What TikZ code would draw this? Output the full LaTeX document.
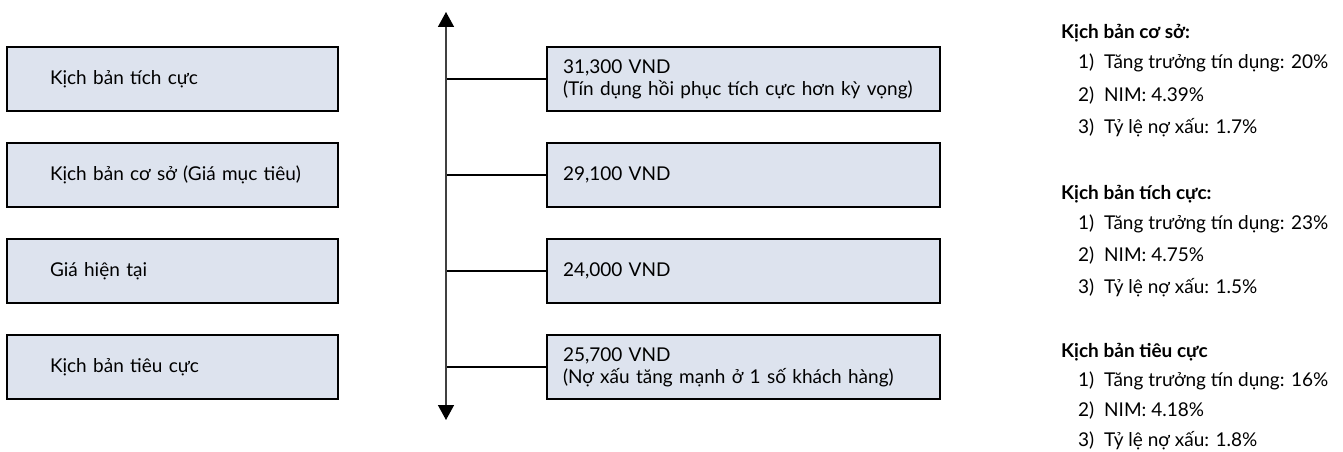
\documentclass[tikz,border=0pt]{standalone}
\usepackage{fontspec}
\setmainfont{Lato}
\usetikzlibrary{arrows.meta}
\definecolor{boxfill}{RGB}{221,227,238}
\definecolor{axisgray}{RGB}{64,64,64}
\tikzset{
  box/.style={draw=black, line width=2.5pt, fill=boxfill, minimum height=64pt, inner ysep=0pt, align=left},
  leftbox/.style={box, inner xsep=43pt, text width=245pt},
  rightbox/.style={box, inner xsep=16pt, text width=361pt},
  tick/.style={line width=2pt},
  axis/.style={draw=axisgray, line width=1.5pt, {Triangle[width=16pt,length=15pt,color=black]}-{Triangle[width=16pt,length=15pt,color=black]}},
  note/.style={anchor=base west, inner sep=0pt},
}
\newcommand{\num}[1]{\makebox[26pt][l]{#1}}
\begin{document}
\begin{tikzpicture}[x=1pt,y=-1pt,font=\fontsize{19}{22}\selectfont]
\useasboundingbox (0,0) rectangle (1343,452);
\clip (0,0) rectangle (1343,452);
\node[leftbox] (l1) at (172.5,79) {Kịch bản tích cực};
\node[leftbox] (l2) at (172.5,175) {\mbox{Kịch bản cơ sở (Giá mục tiêu)}};
\node[leftbox] (l3) at (172.5,271) {Giá hiện tại};
\node[leftbox] (l4) at (172.5,367) {Kịch bản tiêu cực};
\coordinate (top) at (446,12);
\coordinate (bottom) at (446,420);
\draw[axis] (top) -- (bottom);
\node[rightbox] (r1) at (743.5,79) {31,300 VND\\(Tín dụng hồi phục tích cực hơn kỳ vọng)};
\node[rightbox] (r2) at (743.5,175) {29,100 VND};
\node[rightbox] (r3) at (743.5,271) {24,000 VND};
\node[rightbox] (r4) at (743.5,367) {25,700 VND\\(Nợ xấu tăng mạnh ở 1 số khách hàng)};
\coordinate (a1) at (447,79);
\coordinate (a2) at (447,175);
\coordinate (a3) at (447,271);
\coordinate (a4) at (447,367);
\draw[tick] (a1) -- (r1.west);
\draw[tick] (a2) -- (r2.west);
\draw[tick] (a3) -- (r3.west);
\draw[tick] (a4) -- (r4.west);
\node[note] (h1) at (1061,39) {\bfseries Kịch bản cơ sở:};
\node[note] (h1a) at (1078,69) {\num{1)}Tăng trưởng tín dụng: 20\%};
\node[note] (h1b) at (1078,101) {\num{2)}NIM: 4.39\%};
\node[note] (h1c) at (1078,133) {\num{3)}Tỷ lệ nợ xấu: 1.7\%};
\node[note] (h2) at (1061,199) {\bfseries Kịch bản tích cực:};
\node[note] (h2a) at (1078,229) {\num{1)}Tăng trưởng tín dụng: 23\%};
\node[note] (h2b) at (1078,261) {\num{2)}NIM: 4.75\%};
\node[note] (h2c) at (1078,293) {\num{3)}Tỷ lệ nợ xấu: 1.5\%};
\node[note] (h3) at (1061,357) {\bfseries Kịch bản tiêu cực};
\node[note] (h3a) at (1078,386) {\num{1)}Tăng trưởng tín dụng: 16\%};
\node[note] (h3b) at (1078,416) {\num{2)}NIM: 4.18\%};
\node[note] (h3c) at (1078,446) {\num{3)}Tỷ lệ nợ xấu: 1.8\%};
\end{tikzpicture}
\end{document}
